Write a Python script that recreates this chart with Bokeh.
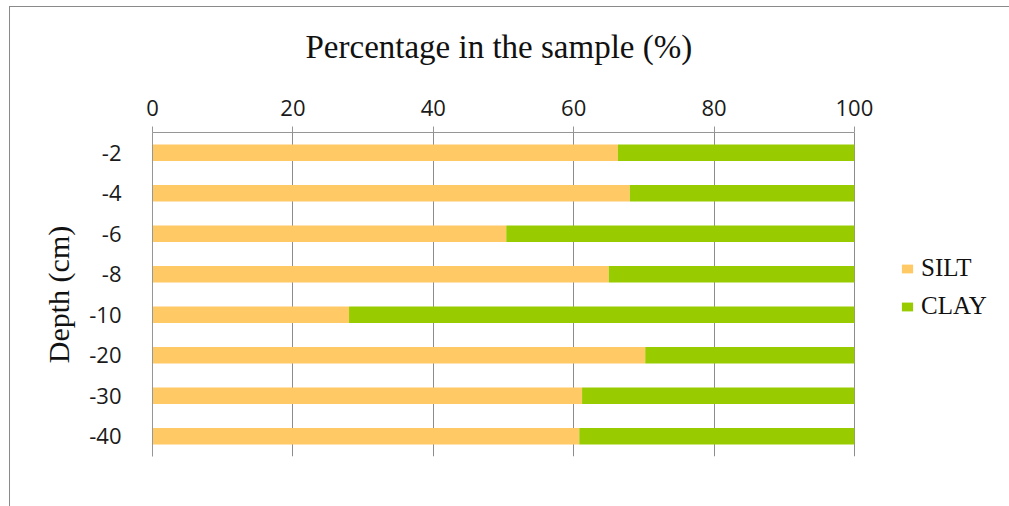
from bokeh.plotting import figure
from bokeh.models import ColumnDataSource, FactorRange, Range1d, FixedTicker, Legend
from bokeh.embed import file_html
from bokeh.resources import INLINE

depths = ["-2", "-4", "-6", "-8", "-10", "-20", "-30", "-40"]
silt = [66.3, 68.0, 50.4, 65.0, 28.0, 70.2, 61.2, 60.8]
clay = [round(100 - s, 1) for s in silt]
x_ticks = [0, 20, 40, 60, 80, 100]

source = ColumnDataSource(dict(depth=depths, silt=silt, clay=clay))

# frame spans to the right edge so the legend can live inside it;
# the axis and grid are bounded to 0..100
p = figure(
    width=1000, height=512,
    x_range=Range1d(0, 120.1),
    y_range=FactorRange(factors=list(reversed(depths))),
    x_axis_location="above",
    output_backend="svg", toolbar_location=None,
    min_border_left=143, min_border_right=14,
    min_border_top=138, min_border_bottom=50,
)
# outer chart border (top and left lines) drawn as the host's background
p.styles = {
    "margin-top": "-6px", "margin-left": "9px",
    "background-color": "white",
    "background-image": "linear-gradient(#8a8a8a, #8a8a8a), linear-gradient(#8a8a8a, #8a8a8a)",
    "background-size": "100% 1px, 1px 100%",
    "background-position": "0 12px, 0 12px",
    "background-repeat": "no-repeat",
}
p.outline_line_color = None
p.border_fill_color = None
p.background_fill_color = None

# chart title placed over the 0..100 axis
p.title.text = "Percentage in the sample (%)"
p.title.text_font = "Liberation Serif"
p.title.text_font_size = "33px"
p.title.text_font_style = "normal"
p.title.text_color = "#111111"
p.title.align = "left"
p.title.offset = 153
p.title.standoff = 64

renderers = p.hbar_stack(["silt", "clay"], y="depth", height=0.41,
                         color=["#FFCA66", "#99CC00"], line_color=None, source=source)

# x axis (top)
xa = p.xaxis[0]
xa.ticker = FixedTicker(ticks=x_ticks)
xa.bounds = (0, 100)
xa.major_label_text_font = "Open Sans"
xa.major_label_text_font_size = "22px"
xa.major_label_text_color = "#1a1a1a"
xa.major_label_standoff = 11
xa.major_tick_in = 0
xa.major_tick_out = 6
xa.major_tick_line_color = "#969696"
xa.minor_tick_line_color = None
xa.axis_line_color = "#969696"

# y axis
ya = p.yaxis[0]
ya.axis_label = "Depth (cm)"
ya.axis_label_text_font = "Liberation Serif"
ya.axis_label_text_font_size = "30px"
ya.axis_label_text_font_style = "normal"
ya.axis_label_text_color = "#111111"
ya.axis_label_standoff = 11
ya.major_label_text_font = "Open Sans"
ya.major_label_text_font_size = "22px"
ya.major_label_text_color = "#1a1a1a"
ya.major_label_standoff = 25
ya.major_tick_line_color = None
ya.minor_tick_line_color = None
ya.axis_line_color = "#969696"

p.xgrid.grid_line_color = "#8c8c8c"
p.ygrid.grid_line_color = None

legend = Legend(items=[("SILT", [renderers[0]]), ("CLAY", [renderers[1]])],
                location=(748, 136))
legend.label_text_font = "Liberation Serif"
legend.label_text_font_size = "25px"
legend.label_text_color = "#111111"
legend.glyph_width = 14
legend.glyph_height = 11
legend.label_height = 28
legend.spacing = 10
legend.label_standoff = 7
legend.padding = 0
legend.margin = 0
legend.border_line_color = None
legend.background_fill_alpha = 0
p.add_layout(legend, "center")

open("out.html", "w").write(file_html(p, INLINE))
